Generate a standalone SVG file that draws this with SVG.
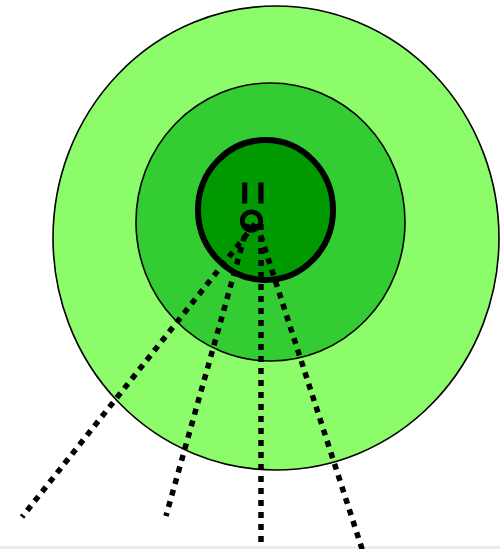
<svg xmlns="http://www.w3.org/2000/svg" width="500" height="549" viewBox="0 0 500 549">
<style>
.ring{stroke:#000;stroke-width:1.6}
.dot{fill:none;stroke:#000;stroke-width:5.5;stroke-dasharray:6 6}
.lbl{font-family:"Liberation Sans",Arial,sans-serif;font-weight:bold;font-size:30px;fill:#000;stroke:#000;stroke-width:0.8}
</style>
<rect x="0" y="0" width="500" height="549" fill="#fff"/>
<rect x="0" y="546" width="500" height="3" fill="#ececec"/>
<g id="outer"><ellipse class="ring" cx="276" cy="238" rx="223" ry="232" fill="#8cfc6a"/></g>
<g id="middle"><ellipse class="ring" cx="270.5" cy="222" rx="134.5" ry="139" fill="#33cc33"/></g>
<g id="inner"><ellipse cx="265.5" cy="210" rx="67.5" ry="70" fill="#009900" stroke="#000" stroke-width="6"/>
<text class="lbl" x="240.5" y="203" letter-spacing="8">II</text></g>
<g id="connectors">
<path class="dot" d="M255 224 L22 517"/>
<path class="dot" d="M248 224 L166 516"/>
<path class="dot" d="M261 224 L261 545"/>
<path class="dot" d="M257 224 L363 552"/>
</g>
<g id="hub"><circle cx="251.5" cy="221" r="9.2" fill="none" stroke="#000" stroke-width="4.8"/></g>
</svg>
